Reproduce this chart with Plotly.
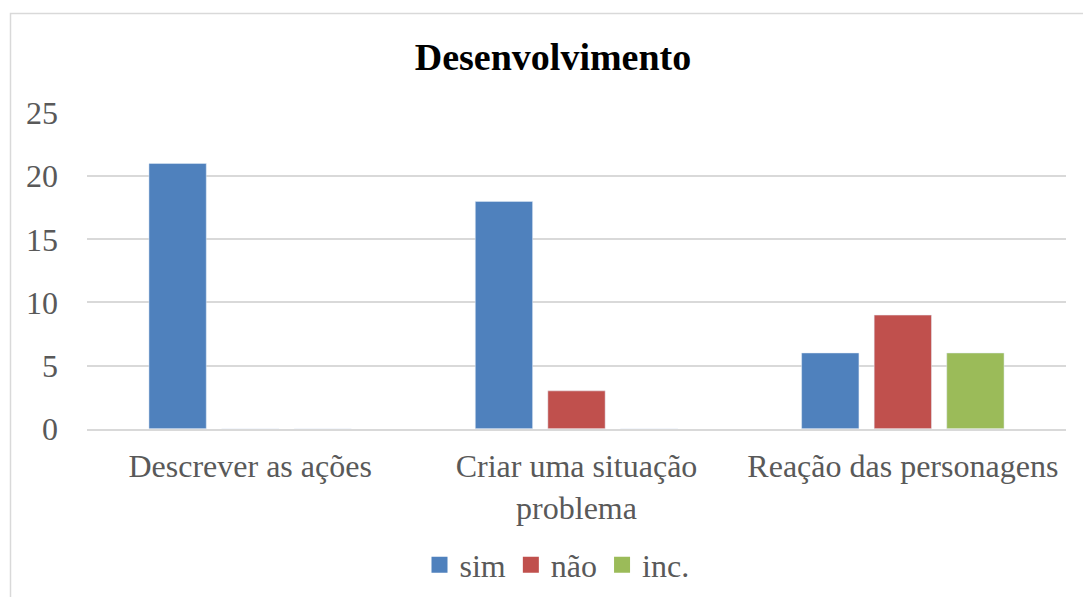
import plotly.graph_objects as go

categories = ["Descrever as ações", "Criar uma situação<br>problema", "Reação das personagens"]
sim = [21, 18, 6]
nao = [0, 3, 9]
inc = [0, 0, 6]
y_ticks = [0, 5, 10, 15, 20, 25]
series = [("sim", sim, "#4F81BD"), ("não", nao, "#C0504D"), ("inc.", inc, "#9BBB59")]

W, H = 1083, 597
L, R, T, B = 87, 17, 113, 167
pw, ph = W - L - R, H - T - B

font_main = "Liberation Serif, Times New Roman, serif"

fig = go.Figure()
for name, vals, color in series:
    fig.add_trace(go.Bar(x=categories, y=vals, name=name, marker=dict(color=color),
                         legendgroup=name, showlegend=False))
# legend entries with larger square swatches
for name, vals, color in series:
    fig.add_trace(go.Scatter(x=[None], y=[None], mode="markers", name=name, legendgroup=name,
                             marker=dict(symbol="square", size=16, color=color)))

fig.update_layout(
    width=W, height=H,
    margin=dict(l=L, r=R, t=T, b=B),
    paper_bgcolor="white", plot_bgcolor="white",
    barmode="group", bargap=0.333, bargroupgap=0.21,
    font=dict(family=font_main, size=32, color="#595959"),
    title=dict(text="<b>Desenvolvimento</b>", x=(553 - L) / pw, xref="paper", xanchor="center",
               y=1 - 57 / H, yref="container", yanchor="middle",
               font=dict(family=font_main, size=38, color="black")),
    legend=dict(orientation="h", x=(557 - L) / pw, xanchor="center",
                y=1 - 565 / H, yref="container", yanchor="middle",
                font=dict(size=32, color="#595959"),
                itemwidth=30, traceorder="normal"),
    showlegend=True,
)
fig.update_yaxes(range=[0, 25], tickvals=y_ticks, showgrid=True, gridcolor="#D9D9D9",
                 gridwidth=1.5, zeroline=False, showline=False, ticks="",
                 ticklabelstandoff=28, tickfont=dict(size=32, color="#595959"))
fig.update_xaxes(showline=True, linecolor="#D9D9D9", linewidth=1.5, ticks="",
                 ticklabelstandoff=8, tickfont=dict(size=32, color="#595959"))

# chart frame
fig.add_shape(type="rect", xref="paper", yref="paper",
              x0=(10.5 - L) / pw, x1=(W + 20 - L) / pw,
              y0=-(H + 20 - T - ph) / ph, y1=1 + (T - 13) / ph,
              line=dict(color="#D9D9D9", width=1.5), fillcolor="rgba(0,0,0,0)", layer="below")

fig.write_html("out.html", config={"displayModeBar": False},
               post_script="document.body.style.margin='0';")
